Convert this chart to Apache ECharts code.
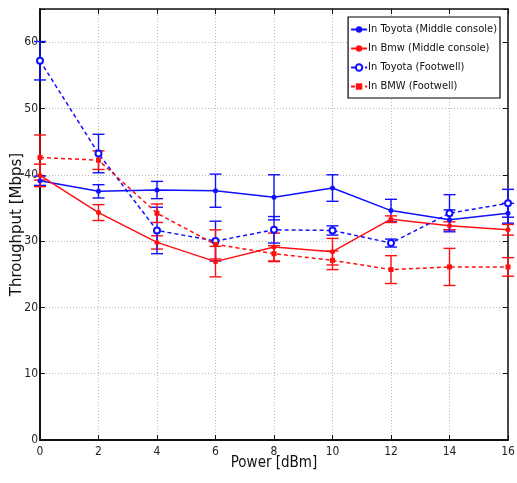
<!DOCTYPE html>
<html><head><meta charset="utf-8">
<script src="https://cdn.jsdelivr.net/npm/echarts@6/dist/echarts.min.js"></script>
<style>html,body{margin:0;padding:0;background:#fff}#c{width:517px;height:483px}</style>
</head><body><div id="c"></div>
<script>
const powers = [0, 2, 4, 6, 8, 10, 12, 14, 16];
const toyotaMiddle = [39.1, 37.5, 37.7, 37.6, 36.6, 38.0, 34.6, 33.2, 34.2];
const toyotaMiddleErr = [0.7, 1.0, 1.3, 2.5, 3.4, 2.0, 1.7, 1.5, 1.5];
const bmwMiddle = [39.9, 34.3, 29.8, 26.9, 29.1, 28.4, 33.3, 32.3, 31.7];
const bmwMiddleErr = [1.7, 1.2, 1.0, 2.3, 2.1, 2.0, 0.5, 0.6, 0.8];
const toyotaFoot = [57.2, 43.2, 31.6, 30.0, 31.7, 31.6, 29.7, 34.2, 35.7];
const toyotaFootErr = [2.9, 2.9, 3.5, 3.0, 2.0, 0.7, 0.6, 2.8, 2.1];
const bmwFoot = [42.6, 42.2, 34.2, 29.5, 28.1, 27.1, 25.7, 26.1, 26.1];
const bmwFootErr = [3.4, 1.4, 1.4, 2.2, 1.2, 1.4, 2.1, 2.8, 1.4];
const names = ['In Toyota (Middle console)', 'In Bmw (Middle console)', 'In Toyota (Footwell)', 'In BMW (Footwell)'];
const xTicks = [0, 2, 4, 6, 8, 10, 12, 14, 16];
const yTicks = [0, 10, 20, 30, 40, 50, 60];

const FONT = '"DejaVu Sans Condensed", "Liberation Sans Narrow", sans-serif';
const BLUE = '#1010ff', RED = '#ff1010';

function lineSeries(name, vals, color, dashed, symbol, size) {
  return {
    name, type: 'line', data: powers.map((p, i) => [p, vals[i]]),
    symbol, symbolSize: size, showSymbol: true,
    lineStyle: { color, width: 1.5, type: dashed ? [4, 3] : 'solid' },
    itemStyle: { color, borderColor: color, borderWidth: symbol === 'emptyCircle' ? 1.2 : 0 },
    z: 3
  };
}
function errSeries(vals, errs, color) {
  return {
    type: 'custom', silent: true, z: 2,
    data: powers.map((p, i) => [p, vals[i] - errs[i], vals[i] + errs[i]]),
    renderItem: function (params, api) {
      const lo = api.coord([api.value(0), api.value(1)]);
      const hi = api.coord([api.value(0), api.value(2)]);
      const w = 6;
      const st = { stroke: color, lineWidth: 1.4 };
      return { type: 'group', children: [
        { type: 'line', shape: { x1: lo[0], y1: lo[1], x2: hi[0], y2: hi[1] }, style: st },
        { type: 'line', shape: { x1: lo[0] - w, y1: lo[1], x2: lo[0] + w, y2: lo[1] }, style: st },
        { type: 'line', shape: { x1: hi[0] - w, y1: hi[1], x2: hi[0] + w, y2: hi[1] }, style: st }
      ]};
    }
  };
}

const chart = echarts.init(document.getElementById('c'), null, { renderer: 'canvas' });
const labelStyle = { color: '#222', fontFamily: FONT, fontSize: 12 };
const boxAxisX = {
  type: 'value', min: 0, max: 16, interval: 2, position: 'top',
  axisLine: { show: true, onZero: false, lineStyle: { color: '#111', width: 1.5 } },
  axisTick: { show: true, inside: true, length: 5, lineStyle: { color: '#111' } },
  axisLabel: { show: false }, splitLine: { show: false }
};
const boxAxisY = {
  type: 'value', min: 0, max: 65, interval: 10, position: 'right',
  axisLine: { show: true, onZero: false, lineStyle: { color: '#111', width: 1.5 } },
  axisTick: { show: true, inside: true, length: 5, lineStyle: { color: '#111' } },
  axisLabel: { show: false }, splitLine: { show: false }
};
chart.setOption({
  animation: false,
  backgroundColor: '#fff',
  grid: { left: 40, right: 9, top: 9, bottom: 43, containLabel: false, outerBoundsMode: 'none' },
  legend: {
    data: names, right: 17, top: 17, orient: 'vertical', itemGap: 8,
    itemWidth: 16, itemHeight: 8,
    backgroundColor: '#fff', borderColor: '#000', borderWidth: 1.2,
    padding: [7, 3, 6, 2], borderRadius: 0,
    textStyle: { fontFamily: FONT, fontSize: 11, color: '#111', padding: [0, 0, 0, -4] }
  },
  xAxis: [{
    type: 'value', min: 0, max: 16, interval: 2, position: 'bottom',
    name: 'Power [dBm]', nameLocation: 'middle', nameGap: 16, nameMoveOverlap: false,
    nameTextStyle: { fontFamily: FONT, fontSize: 15, color: '#111', verticalAlign: 'top' },
    axisLine: { show: true, onZero: false, lineStyle: { color: '#111', width: 2 } },
    axisTick: { show: true, inside: true, length: 5, lineStyle: { color: '#111' } },
    axisLabel: Object.assign({ margin: 6, formatter: v => xTicks.includes(v) ? String(v) : '' }, labelStyle),
    splitLine: { show: true, lineStyle: { color: '#b8b8b8', type: [1, 2], width: 1 } }
  }, boxAxisX],
  yAxis: [{
    type: 'value', min: 0, max: 65, interval: 10, position: 'left',
    name: 'Throughput [Mbps]', nameLocation: 'middle', nameGap: 15, nameMoveOverlap: false,
    nameTextStyle: { fontFamily: '"DejaVu Sans", sans-serif', fontSize: 15, color: '#111', verticalAlign: 'bottom' },
    axisLine: { show: true, onZero: false, lineStyle: { color: '#111', width: 2 } },
    axisTick: { show: true, inside: true, length: 5, lineStyle: { color: '#111' } },
    axisLabel: Object.assign({ margin: 2, formatter: v => yTicks.includes(v) ? String(v) : '' }, labelStyle),
    splitLine: { show: true, lineStyle: { color: '#b8b8b8', type: [1, 2], width: 1 } }
  }, boxAxisY],
  series: [
    errSeries(toyotaMiddle, toyotaMiddleErr, BLUE),
    errSeries(bmwMiddle, bmwMiddleErr, RED),
    errSeries(toyotaFoot, toyotaFootErr, BLUE),
    errSeries(bmwFoot, bmwFootErr, RED),
    lineSeries(names[0], toyotaMiddle, BLUE, false, 'circle', 5),
    lineSeries(names[1], bmwMiddle, RED, false, 'circle', 5),
    lineSeries(names[2], toyotaFoot, BLUE, true, 'emptyCircle', 6),
    lineSeries(names[3], bmwFoot, RED, true, 'rect', 5)
  ]
});
</script></body></html>
